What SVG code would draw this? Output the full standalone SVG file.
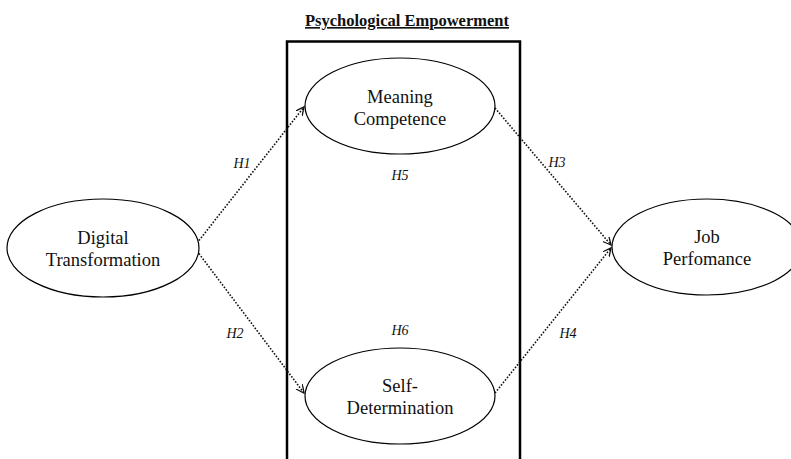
<svg xmlns="http://www.w3.org/2000/svg" width="791" height="459" viewBox="0 0 791 459">
<style>
.node ellipse{fill:#fff;stroke:#000;stroke-width:1.2}
.lbl{font-family:"Liberation Serif","Times New Roman",serif;font-size:18.5px;text-anchor:middle;fill:#111}
.h{font-family:"Liberation Serif","Times New Roman",serif;font-size:14px;font-style:italic;text-anchor:middle;fill:#111}
.conn line{stroke:#111;stroke-width:1.6;stroke-dasharray:1.6 1.6;marker-end:url(#arr)}
</style>
<defs>
<marker id="arr" markerWidth="10" markerHeight="10" refX="8" refY="4" orient="auto" markerUnits="userSpaceOnUse">
<path d="M0,0 L8,4 L0,8" fill="none" stroke="#111" stroke-width="1.3"/>
</marker>
</defs>
<rect width="791" height="459" fill="#fff"/>
<g id="title">
<text x="407" y="26" font-family="Liberation Serif,'Times New Roman',serif" font-size="16.5" font-weight="bold" text-anchor="middle" text-decoration="underline" fill="#111">Psychological Empowerment</text>
</g>
<g id="box">
<path d="M287,462 L287,41.5 L520,41.5 L520,462" fill="none" stroke="#000" stroke-width="2.5"/>
</g>
<g class="conn" id="connectors">
<line x1="197" y1="243" x2="304" y2="107"/>
<line x1="197" y1="251" x2="304" y2="393"/>
<line x1="495" y1="108" x2="611" y2="245"/>
<line x1="495" y1="393" x2="611" y2="248"/>
</g>
<g id="labels">
<text class="h" x="242" y="168">H1</text>
<text class="h" x="235" y="338">H2</text>
<text class="h" x="557" y="167">H3</text>
<text class="h" x="568" y="338">H4</text>
<text class="h" x="400" y="180">H5</text>
<text class="h" x="400" y="335">H6</text>
</g>
<g class="node" id="digital">
<ellipse cx="103" cy="248" rx="96" ry="49"/>
<text class="lbl" x="103" y="244">Digital</text>
<text class="lbl" x="103" y="266">Transformation</text>
</g>
<g class="node" id="meaning">
<ellipse cx="400" cy="106" rx="95" ry="48"/>
<text class="lbl" x="400" y="103">Meaning</text>
<text class="lbl" x="400" y="125">Competence</text>
</g>
<g class="node" id="self">
<ellipse cx="400" cy="396" rx="95" ry="48"/>
<text class="lbl" x="400" y="392">Self-</text>
<text class="lbl" x="400" y="414">Determination</text>
</g>
<g class="node" id="job">
<ellipse cx="707" cy="247" rx="95" ry="48"/>
<text class="lbl" x="707" y="243">Job</text>
<text class="lbl" x="707" y="265">Perfomance</text>
</g>
</svg>
